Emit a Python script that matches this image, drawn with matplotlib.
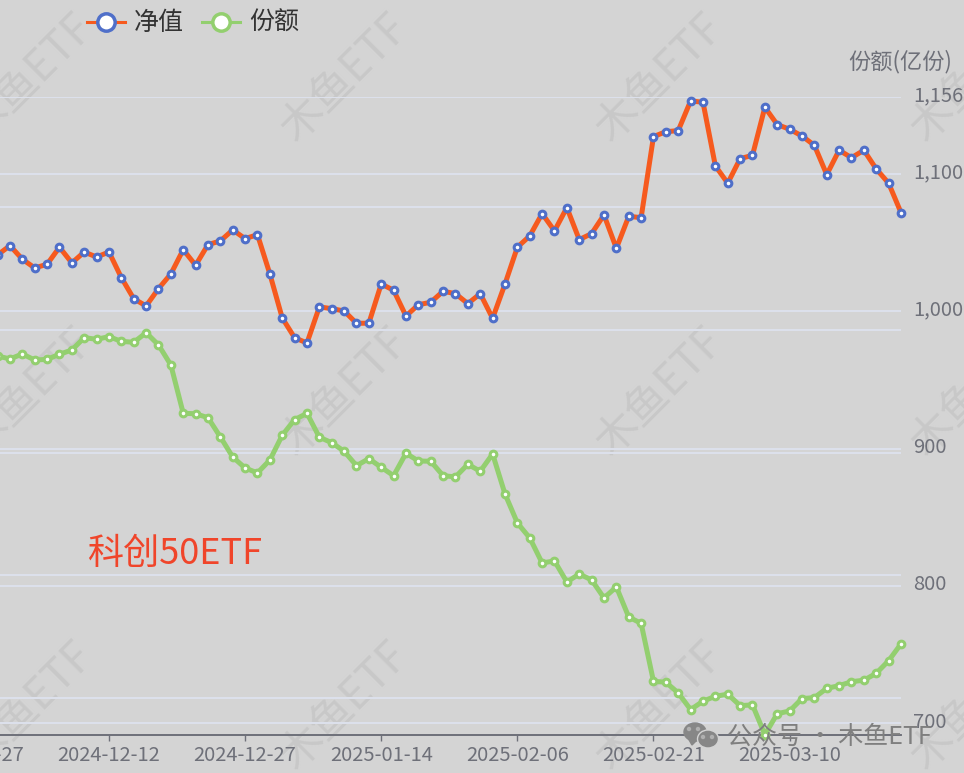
import matplotlib
matplotlib.use('Agg')
from matplotlib import pyplot as plt
from matplotlib.patches import Ellipse, Polygon
from matplotlib.transforms import ScaledTranslation

plt.rcParams['font.family'] = ['Noto Sans CJK SC', 'DejaVu Sans']

W, H = 964, 773

dates = ['2024-11-27', '2024-11-28', '2024-11-29', '2024-12-02', '2024-12-03', '2024-12-04', '2024-12-05',
         '2024-12-06', '2024-12-09', '2024-12-10', '2024-12-11', '2024-12-12', '2024-12-13', '2024-12-16',
         '2024-12-17', '2024-12-18', '2024-12-19', '2024-12-20', '2024-12-23', '2024-12-24', '2024-12-25',
         '2024-12-26', '2024-12-27', '2024-12-30', '2024-12-31', '2025-01-02', '2025-01-03', '2025-01-06',
         '2025-01-07', '2025-01-08', '2025-01-09', '2025-01-10', '2025-01-13', '2025-01-14', '2025-01-15',
         '2025-01-16', '2025-01-17', '2025-01-20', '2025-01-21', '2025-01-22', '2025-01-23', '2025-01-24',
         '2025-01-27', '2025-02-05', '2025-02-06', '2025-02-07', '2025-02-10', '2025-02-11', '2025-02-12',
         '2025-02-13', '2025-02-14', '2025-02-17', '2025-02-18', '2025-02-19', '2025-02-20', '2025-02-21',
         '2025-02-24', '2025-02-25', '2025-02-26', '2025-02-27', '2025-02-28', '2025-03-03', '2025-03-04',
         '2025-03-05', '2025-03-06', '2025-03-07', '2025-03-10', '2025-03-11', '2025-03-12', '2025-03-13',
         '2025-03-14', '2025-03-17', '2025-03-18', '2025-03-19', '2025-03-20', '2025-03-21']

# left axis is cropped off in the reference, values estimated from its gridlines
nav = [1.0560, 1.0590, 1.0612, 1.0688, 1.0577, 1.0506, 1.0536, 1.0675, 1.0547, 1.0636, 1.0595, 1.0636,
       1.0427, 1.0255, 1.0196, 1.0337, 1.0457, 1.0655, 1.0528, 1.0696, 1.0726, 1.0816, 1.0745, 1.0777,
       1.0457, 1.0098, 0.9937, 0.9894, 1.0188, 1.0174, 1.0155, 1.0055, 1.0055, 1.0375, 1.0324, 1.0114,
       1.0206, 1.0226, 1.0316, 1.0296, 1.0215, 1.0296, 1.0095, 1.0375, 1.0675, 1.0767, 1.0949, 1.0808,
       1.0998, 1.0737, 1.0786, 1.0938, 1.0666, 1.0927, 1.0916, 1.1577, 1.1617, 1.1626, 1.1868, 1.1857,
       1.1338, 1.1197, 1.1397, 1.1425, 1.1816, 1.1675, 1.1637, 1.1582, 1.1506, 1.1267, 1.1466, 1.1405,
       1.1466, 1.1313, 1.1197, 1.0957]

share = [966.0, 967.0, 967.4, 965.3, 968.9, 964.5, 965.0, 968.7, 971.8, 980.8, 979.6, 981.5,
         978.1, 977.4, 984.4, 975.5, 960.9, 925.7, 925.4, 922.5, 908.5, 893.9, 885.9, 882.3,
         891.7, 909.7, 921.1, 925.7, 908.3, 904.3, 898.1, 887.6, 892.7, 886.4, 880.3, 896.6,
         891.0, 890.8, 880.3, 879.4, 888.6, 883.5, 896.1, 867.0, 845.9, 835.0, 816.8, 818.2,
         802.9, 808.7, 804.4, 791.3, 799.3, 777.4, 772.8, 730.6, 729.9, 722.1, 710.0, 716.1,
         719.7, 721.2, 712.9, 713.4, 691.7, 707.0, 709.0, 718.0, 718.7, 725.5, 727.4, 730.3,
         731.4, 736.4, 745.6, 757.8]

nav_ticks = [0.7, 0.8, 0.9, 1.0, 1.1]
share_ticks = [700, 800, 900, 1000, 1100, 1156]
tick_every = 11
series_names = ['净值', '份额']
share_title = '份额(亿份)'
fund_name = '科创50ETF'
mark_text = '木鱼ETF'
wechat_text = '公众号 · 木鱼ETF'

BG = '#d4d4d4'
ORANGE = '#f65a1e'
BLUE = '#4f6fc9'
GREEN = '#93cf6f'
GRID = '#dde1ec'
TXT = '#6e7079'


def px(x, y):
    return x / W, 1 - y / H


fig = plt.figure(figsize=(W / 100, H / 100), dpi=100, facecolor=BG)
ax = fig.add_axes([0, 1 - 735 / H, 901 / W, (735 - 97) / H], facecolor='none')
ax2 = ax.twinx()
ax2.set_facecolor('none')
ax.set_zorder(1)
ax2.set_zorder(2)

xs = list(range(len(dates)))

# watermark behind everything
for wy in [78, 392, 706]:
    for wx in [30, 345, 660, 975]:
        fig.text(wx / W, 1 - wy / H, mark_text, rotation=45, fontsize=31, color='#c8c8c8',
                 ha='center', va='center', rotation_mode='anchor', zorder=0)

ax.set_yticks(nav_ticks)
ax.tick_params(axis='y', left=False, labelleft=False)
ax2.set_yticks(share_ticks)
ax2.set_yticklabels([format(v, ',') for v in share_ticks])
ax2.tick_params(axis='y', right=False, pad=5.2, labelsize=14.5, labelcolor=TXT)
ax.grid(axis='y', color=GRID, lw=1.4)
ax2.grid(axis='y', color=GRID, lw=1.4)
ax.set_axisbelow(True)
ax2.set_axisbelow(True)

for a in (ax, ax2):
    for s in ['top', 'left', 'right']:
        a.spines[s].set_visible(False)
    a.spines['bottom'].set_color('#6e7079')
    a.spines['bottom'].set_linewidth(1.2)

ax.set_xticks(xs[::tick_every])
ax.set_xticklabels(dates[::tick_every])
ax.tick_params(axis='x', length=4.5, width=1, color='#6e7079', labelsize=14.5, labelcolor=TXT, pad=3)

ax2.plot(xs, share, color=GREEN, lw=3.6, marker='o', ms=4.8, mfc='white', mec=GREEN, mew=2.2,
         clip_on=False, zorder=3)
ax2.plot(xs, nav, color=ORANGE, lw=3.6, marker='o', ms=4.8, mfc='white', mec=BLUE, mew=2.2,
         clip_on=False, zorder=4, transform=ax.transData)

# limits go last, the plots above would autoscale the shared x
ax.set_xlim(2.194, 75)
ax.set_ylim(0.6697, 1.19)
ax2.set_ylim(691.5, 1156)

# first date tick is outside the view, only the end of its label shows at the edge
ax.annotate(dates[0], xy=(xs[0], 0), xycoords=('data', 'axes fraction'), xytext=(0, -7.5),
            textcoords='offset points', ha='center', va='top', fontsize=14.5, color=TXT,
            annotation_clip=False)

# share labels sit slightly above their gridlines
lift = ScaledTranslation(0, 3.5 / 100, fig.dpi_scale_trans)
for lab in ax2.get_yticklabels():
    lab.set_transform(lab.get_transform() + lift)

# legend by hand, it is cropped against the top edge
for lx, name, lc, mc in [(106, series_names[0], ORANGE, BLUE), (221, series_names[1], GREEN, GREEN)]:
    fig.add_artist(plt.Line2D([(lx - 19) / W, (lx + 19) / W], [1 - 22 / H] * 2, color=lc, lw=2.2, zorder=5))
    fig.add_artist(plt.Line2D([lx / W], [1 - 22 / H], marker='o', ms=12.5, mfc='white', mec=mc, mew=2.5, zorder=5))
    fig.text((lx + 28) / W, 1 - 23 / H, name, fontsize=18, color='#333333', ha='left', va='center', zorder=5)

fig.text(900 / W, 1 - 62 / H, share_title, fontsize=16, color=TXT, ha='center', va='center', zorder=5)
fig.text(175 / W, 1 - 554 / H, fund_name, fontsize=26, color='#f0452a', ha='center', va='center', zorder=5)

# wechat logo and caption
fig.add_artist(Ellipse(px(695, 732), 22 / W, 18 / H, transform=fig.transFigure, color='#878787', zorder=6))
fig.add_artist(Polygon([px(688, 738), px(692, 745), px(697, 740)], transform=fig.transFigure, color='#878787', zorder=6))
fig.add_artist(Ellipse(px(708, 739), 21 / W, 18 / H, transform=fig.transFigure, fc='#878787', ec=BG, lw=1, zorder=6))
for ex, ey in [(689, 729), (698, 729), (703, 737), (712, 737)]:
    fig.add_artist(Ellipse(px(ex, ey), 3 / W, 3 / H, transform=fig.transFigure, color='#b0b0b0', zorder=7))
fig.text(727 / W, 1 - 737 / H, wechat_text, fontsize=18, color='#7f7f7f', ha='left', va='center', zorder=6)

fig.savefig('out.png', dpi=100, facecolor=BG)
